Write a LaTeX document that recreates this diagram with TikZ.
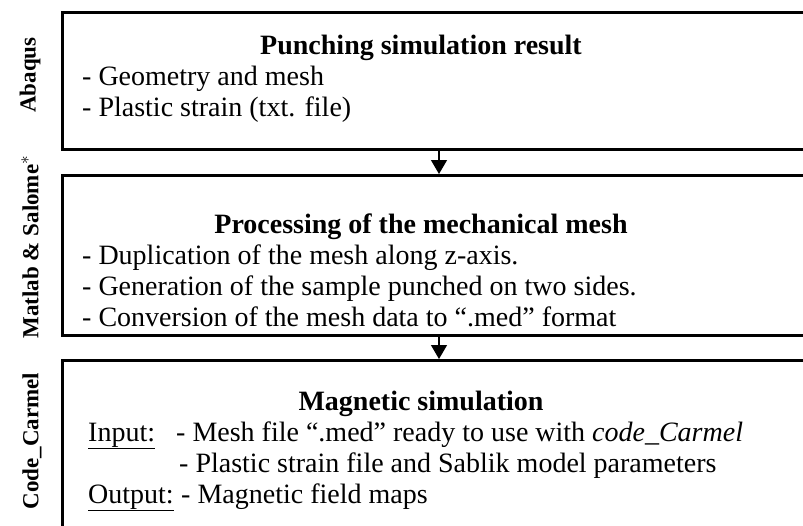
\documentclass[tikz,border=0pt]{standalone}
\usepackage{fontspec}
\setmainfont{Liberation Serif}
\usetikzlibrary{arrows.meta,positioning}

\newcommand{\bodysize}{\fontsize{28}{31}\selectfont}
\tikzset{
  stage/.style={draw,line width=2.6pt,anchor=north west,minimum width=780pt,inner sep=0pt},
  heading/.style={font=\bodysize\bfseries,anchor=base,inner sep=0pt},
  item/.style={font=\bodysize,anchor=base west,inner sep=0pt},
  tool/.style={font=\fontsize{23}{25}\selectfont\bfseries,rotate=90,inner sep=0pt},
  flow/.style={-{Triangle[length=14pt,width=16pt]},line width=1.3pt},
}

\begin{document}
\begin{tikzpicture}[x=1pt,y=-1pt]
  \clip (0,0) rectangle (803,525);
  \useasboundingbox (0,0) rectangle (803,525);

  % stages
  \node[stage,minimum height=137pt] (box1) at (61,11) {};
  \node[stage,minimum height=160pt] (box2) at (61,174) {};
  \node[stage,minimum height=220pt] (box3) at (61,359) {};

  % software used at each stage
  \node[tool] (abaqus) at (30,75) {Abaqus};
  \node[tool] (matlab) at (30,247) {Matlab \& Salome$^{*}$};
  \node[tool] (carmel) at (32,441) {Code\_Carmel};

  % stage 1
  \node[heading] (t1) at (421,54) {Punching simulation result};
  \node[item] (g1) at (82,85) {- Geometry and mesh};
  \node[item] (g2) at (82,116) {- Plastic strain (txt. file)};

  % stage 2
  \node[heading] (t2) at (421,233) {Processing of the mechanical mesh};
  \node[item] (p1) at (82,264) {- Duplication of the mesh along z-axis.};
  \node[item] (p2) at (82,295) {- Generation of the sample punched on two sides.};
  \node[item] (p3) at (82,326) {- Conversion of the mesh data to “.med” format};

  % stage 3
  \node[heading] (t3) at (421,410) {Magnetic simulation};
  \node[item] (inp) at (88,441) {\underline{Input:}};
  \node[item] (m1) at (176,441) {- Mesh file “.med” ready to use with \textit{code\_Carmel}};
  \node[item] (m2) at (179,472) {- Plastic strain file and Sablik model parameters};
  \node[item] (outp) at (88,503) {\underline{Output:}};
  \node[item] (m3) at (181,503) {- Magnetic field maps};

  % flow between stages
  \coordinate (arr) at (439,0);
  \draw[flow] (box1.south -| arr) -- (box2.north -| arr);
  \draw[flow] (box2.south -| arr) -- (box3.north -| arr);
\end{tikzpicture}
\end{document}
